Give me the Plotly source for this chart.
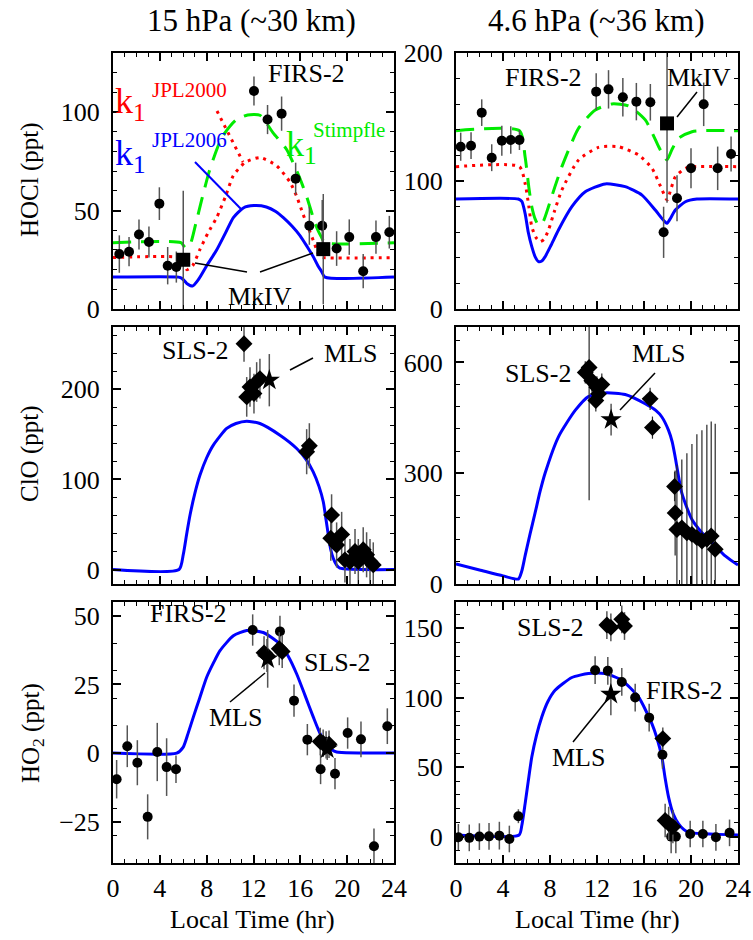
import plotly.graph_objects as go

# ---------------- data ----------------
# HOCl, 15 hPa
hocl15_firs_t = [0.54, 1.37, 2.22, 3.07, 3.96, 4.67, 5.41, 12.04, 13.2, 14.4, 15.6, 16.77, 17.87, 19.1, 20.18, 21.37, 22.46, 23.6]
hocl15_firs_v = [27.9, 29.1, 37.8, 34.0, 53.5, 22.0, 21.3, 110.7, 96.2, 99.2, 66.2, 42.3, 42.3, 30.7, 36.5, 19.2, 36.5, 39.0]
hocl15_firs_e = [9.5, 7.4, 7.6, 7.9, 8.3, 9.5, 7.9, 7.4, 7.4, 8.7, 8.1, 9.7, 13, 8.8, 9, 8.7, 8.4, 8.3]
hocl15_mkiv_t = [6.0, 17.96]
hocl15_mkiv_v = [25.0, 30.4]
hocl15_mkiv_e = [35, 28]
hocl15_jpl06_t = [0, 5.6, 5.9, 6.3, 6.8, 7.3, 8.0, 8.85, 9.6, 10.28, 11.13, 12.04, 13.1, 13.9, 14.55, 15.3, 15.97, 16.6, 17.1, 17.5, 17.8, 18.1, 24]
hocl15_jpl06_v = [16.2, 16.2, 15.5, 13, 11.7, 15, 22, 29.9, 38.5, 46.4, 51.3, 52.5, 51.8, 49.5, 46.4, 42, 37.3, 31.5, 26.6, 22, 19.2, 16.2, 16.2]
hocl15_jpl00_t = [0, 5.7, 6.0, 6.3, 6.8, 7.4, 8.1, 8.85, 9.6, 10.28, 11.27, 12.55, 13.97, 15.1, 15.7, 16.24, 16.7, 17.1, 17.4, 17.66, 17.9, 24]
hocl15_jpl00_v = [26.1, 26.1, 24, 20, 22, 29.9, 38.5, 46.4, 57, 67.8, 74.4, 76.9, 72.8, 64.6, 57, 48, 41, 34.9, 30, 26.6, 26.1, 26.1]
hocl15_stim_t = [0, 5.8, 6.2, 6.6, 7.06, 7.6, 8.2, 8.8, 9.34, 10.48, 11.5, 12.55, 13.69, 14.83, 15.97, 16.6, 17.1, 17.5, 17.8, 18.1, 24]
hocl15_stim_v = [33.7, 33.7, 31, 33, 43.1, 56, 69.5, 80, 87.6, 95.9, 98.5, 98.4, 89.3, 81, 66.2, 56, 46.4, 40, 36.5, 33.7, 33.7]

# HOCl, 4.6 hPa
hocl46_firs_t = [0.4, 1.28, 2.19, 3.04, 3.9, 4.66, 5.4, 11.93, 12.98, 14.2, 15.35, 16.54, 17.67, 18.81, 20.0, 21.08, 22.27, 23.41]
hocl46_firs_v = [126.8, 127.6, 153.4, 118.2, 131.5, 132, 132, 169.8, 171.6, 165.4, 162, 161.5, 59.9, 86.5, 109.9, 159.9, 109.9, 121.1]
hocl46_firs_e = [11, 10.4, 10.4, 10.5, 11.7, 10.8, 7.8, 14.3, 15, 15, 14.6, 14.3, 20, 18, 15.6, 17, 17, 13.7]
hocl46_mkiv_t = [17.96]
hocl46_mkiv_v = [145]
hocl46_mkiv_e = [62]
hocl46_jpl06_t = [0, 5.3, 5.6, 5.88, 6.15, 6.45, 6.75, 7.02, 7.3, 7.59, 8.1, 8.72, 9.86, 11, 12.7, 14.4, 15.83, 16.96, 17.5, 17.8, 17.96, 18.2, 18.67, 19.52, 20.5, 24]
hocl46_jpl06_v = [85.9, 85.9, 84, 74.7, 60, 48.7, 40.5, 37, 37.5, 40.9, 50, 61.7, 79.9, 91.6, 97.7, 95.6, 89, 77.3, 71, 68, 67, 70, 77.3, 83.8, 85.9, 85.9]
hocl46_jpl00_t = [0, 5.4, 5.88, 6.2, 6.45, 6.8, 7.16, 7.5, 7.87, 8.4, 9.01, 10.43, 12.13, 13.84, 15.54, 16.68, 17.54, 17.96, 18.3, 18.67, 19.52, 20.3, 24]
hocl46_jpl00_v = [111.2, 111.2, 98.2, 80, 64.3, 56, 52.6, 54.5, 61.7, 77, 93, 116.4, 126.3, 126.8, 120.3, 109.9, 93, 85.2, 94, 103.4, 109.9, 111.2, 111.2]
hocl46_stim_t = [0, 5.4, 5.88, 6.2, 6.45, 6.75, 7.02, 7.4, 7.87, 8.4, 9.01, 10.43, 11.85, 13.27, 14.69, 16.11, 17.25, 17.7, 17.96, 18.4, 18.95, 20.09, 21, 24]
hocl46_stim_v = [139.3, 139.3, 119, 95, 79.9, 70, 65.6, 68, 79.9, 95, 111.2, 141.2, 155.5, 160.2, 158.6, 147.7, 126.8, 119, 116.4, 125, 133.4, 138.5, 139.3, 139.3]

# ClO, 15 hPa
clo15_model_t = [0, 5.64, 6.0, 6.3, 6.58, 7.0, 7.43, 8.0, 8.57, 9.71, 10.5, 11.42, 12.55, 14.26, 15.69, 16.5, 17.1, 17.6, 17.96, 18.2, 18.39, 18.6, 18.81, 19.1, 19.38, 24]
clo15_model_v = [0, 0, 16.6, 40, 60.5, 85, 104.8, 124, 138, 156.5, 162, 164.6, 162, 149, 134.3, 122, 108.4, 92, 75.2, 55, 38.4, 22, 12.6, 5, 1.5, 0]
clo15_sls_t = [11.19, 11.42, 11.7, 12.04, 12.27, 12.55, 16.54, 16.77, 18.67, 18.6, 19.1, 19.53, 19.81, 20.24, 20.67, 20.95, 21.37, 21.66, 21.95, 22.23]
clo15_sls_v = [250.5, 191.5, 202.5, 195.2, 208, 211.8, 130.7, 137.3, 60.5, 34.7, 27.3, 39, 10.8, 8.9, 20, 8.9, 21.9, 16.4, 8.9, 5.2]
clo15_sls_e = [20, 22, 22, 22, 22, 22, 25, 25, 23, 25, 25, 25, 25, 25, 25, 25, 25, 25, 25, 25]
clo15_mls_t = [13.35]
clo15_mls_v = [210]
clo15_mls_e = [29]

# ClO, 4.6 hPa
clo46_model_t = [0, 2, 4, 5.31, 5.6, 5.88, 6.3, 6.73, 7.15, 7.58, 8.72, 10.14, 11.27, 12.69, 14.4, 16.1, 17.0, 17.52, 18.09, 18.4, 18.65, 19.22, 20.08, 20.93, 22.06, 22.91, 23.9, 24]
clo46_model_v = [54, 38, 22, 13.4, 35, 76, 135, 192.5, 250, 300, 398.6, 470, 507.6, 517.5, 513, 488, 470, 452.3, 416, 385, 344.8, 246, 174.6, 138.8, 103, 76, 53.7, 52]
clo46_sls_t = [11.0, 11.33, 11.56, 11.9, 11.99, 12.13, 12.41, 16.52, 16.72, 18.6, 18.65, 18.8, 19.22, 19.65, 20.08, 20.5, 20.93, 21.35, 21.72, 22.06]
clo46_sls_v = [573, 586.6, 550.6, 497, 532.8, 515, 540, 501.4, 423.5, 264.2, 192.5, 147.7, 152, 138.8, 134.4, 125.5, 116.5, 121, 130, 94]
clo46_sls_e = [30, 360, 30, 30, 30, 30, 30, 30, 30, 40, 115, 175, 185, 215, 245, 280, 300, 310, 310, 340]
clo46_mls_t = [13.2]
clo46_mls_v = [445]
clo46_mls_e = [43]

# HO2, 15 hPa
ho215_model_t = [0, 5.44, 6.0, 6.4, 6.86, 7.4, 8.0, 8.6, 9.14, 10.28, 11.42, 12.84, 14.26, 15.0, 15.69, 16.4, 17.11, 17.7, 18.25, 18.7, 19.1, 24]
ho215_model_v = [0, 0, 2.2, 7, 13.1, 20, 27.6, 33, 37.3, 42.7, 44.6, 43.9, 39.7, 35, 28.8, 21, 13.1, 7, 3.4, 1.2, 0.4, 0]
ho215_firs_t = [0.31, 1.22, 2.08, 2.96, 3.78, 4.58, 5.38, 11.93, 14.26, 15.46, 16.6, 17.73, 18.96, 20.04, 21.18, 22.29, 23.43]
ho215_firs_v = [-9.5, 2.5, -3.5, -23.2, 0.4, -5.1, -5.9, 44.8, 44.3, 19.1, 4.9, -5.9, -7.5, 7.3, 5.0, -33.9, 9.8]
ho215_firs_e = [7, 7.6, 8.2, 8.2, 10.6, 10.5, 5, 5.7, 5.7, 5.9, 5.7, 5.4, 5.7, 5.7, 6.5, 6.5, 6.5]
ho215_sls_t = [12.9, 13.15, 14.2, 14.45, 17.7, 17.95, 18.2, 18.45]
ho215_sls_v = [36.5, 35.5, 38, 37, 4.2, 3.6, 3.0, 3.2]
ho215_sls_e = [6, 6, 6, 6, 5, 5, 5, 5]
ho215_mls_t = [13.21, 18.3]
ho215_mls_v = [34.3, 1.5]
ho215_mls_e = [10.5, 4]

# HO2, 4.6 hPa
ho246_model_t = [0, 5.37, 5.6, 5.88, 6.15, 6.45, 6.85, 7.3, 7.8, 8.43, 9.86, 11.27, 12.69, 14.11, 15.53, 16.67, 17.1, 17.52, 17.8, 18.09, 18.5, 18.94, 19.4, 19.79, 24]
ho246_model_v = [1.2, 1.2, 8, 23.6, 40, 57.3, 73, 86.2, 97, 105.4, 114.6, 117.5, 117.5, 112.7, 100.6, 81.4, 71, 57.3, 42, 28.4, 16, 9.2, 5, 3.1, 1.2]
ho246_firs_t = [0.2, 1.13, 1.99, 2.81, 3.69, 4.54, 5.31, 11.84, 12.92, 14.11, 15.25, 16.44, 17.57, 18.31, 18.71, 19.93, 21.01, 22.12, 23.28]
ho246_firs_v = [-0.5, -0.9, 0, 0.2, 0.7, -1.7, 14.7, 119.9, 119.4, 111.4, 100.2, 85.7, 59, 0, 0, 1.9, 1.9, -0.5, 2.7]
ho246_firs_e = [9.6, 9.6, 9.6, 9.6, 10, 9.6, 5, 10, 10, 10, 10, 10, 10, 12, 12, 9.6, 9.6, 9.6, 9.6]
ho246_sls_t = [12.84, 13.18, 14.11, 14.34, 17.6, 17.8, 18.1, 18.46]
ho246_sls_v = [152.4, 150.7, 156.5, 151.7, 70.6, 11.6, 9.5, 7.2]
ho246_sls_e = [10, 10, 10, 10, 8, 12, 12, 12]
ho246_mls_t = [13.18]
ho246_mls_v = [102.5]
ho246_mls_e = [15]

# axis settings per panel: (range, major step, minor step)
y_ranges = [[0, 130], [0, 200], [-16, 269], [0, 696], [-40, 55], [-19, 169]]
y_dticks = [50, 100, 100, 300, 25, 50]
y_minor = [10, 20, 20, 60, 10, 10]
x_range = [0, 24]
x_major = 4
x_minor = 1

# ---------------- layout geometry ----------------
W, H = 753, 940
COLS = [(113, 394), (456, 738)]
ROWS = [(53, 309), (327, 584), (602, 863)]
FONT = "Liberation Serif"

BLUE = "rgb(0,0,255)"
RED = "rgb(255,0,0)"
GREEN = "rgb(0,235,0)"
BAR = "rgb(85,85,85)"


def px(x, y):
    return x / W, 1 - y / H


fig = go.Figure()


def ax(k):
    return ("x" if k == 1 else f"x{k}"), ("y" if k == 1 else f"y{k}")


def curve(k, t, v, color, dash="solid", width=3):
    xa, ya = ax(k)
    fig.add_trace(go.Scatter(x=t, y=v, mode="lines", xaxis=xa, yaxis=ya,
                             line=dict(color=color, width=width, dash=dash, shape="spline", smoothing=0.6),
                             hoverinfo="skip"))


def points(k, t, v, e, symbol, size, bar=BAR, thick=1.5):
    xa, ya = ax(k)
    fig.add_trace(go.Scatter(x=t, y=v, mode="markers", xaxis=xa, yaxis=ya,
                             marker=dict(symbol=symbol, size=size, color="black", line=dict(width=0)),
                             error_y=dict(type="data", array=e, visible=True, thickness=thick, width=0, color=bar)))


# panel 1: HOCl 15 hPa
curve(1, hocl15_stim_t, hocl15_stim_v, GREEN, dash="18px,10px")
curve(1, hocl15_jpl00_t, hocl15_jpl00_v, RED, dash="3px,5px")
curve(1, hocl15_jpl06_t, hocl15_jpl06_v, BLUE)
points(1, hocl15_firs_t, hocl15_firs_v, hocl15_firs_e, "circle", 10)
points(1, hocl15_mkiv_t, hocl15_mkiv_v, hocl15_mkiv_e, "square", 14)

# panel 2: HOCl 4.6 hPa
curve(2, hocl46_stim_t, hocl46_stim_v, GREEN, dash="18px,10px")
curve(2, hocl46_jpl00_t, hocl46_jpl00_v, RED, dash="3px,5px")
curve(2, hocl46_jpl06_t, hocl46_jpl06_v, BLUE)
points(2, hocl46_firs_t, hocl46_firs_v, hocl46_firs_e, "circle", 10)
points(2, hocl46_mkiv_t, hocl46_mkiv_v, hocl46_mkiv_e, "square", 14)

# panel 3: ClO 15 hPa
curve(3, clo15_model_t, clo15_model_v, BLUE)
points(3, clo15_sls_t, clo15_sls_v, clo15_sls_e, "diamond", 13)
points(3, clo15_mls_t, clo15_mls_v, clo15_mls_e, "star", 16)

# panel 4: ClO 4.6 hPa
curve(4, clo46_model_t, clo46_model_v, BLUE)
points(4, clo46_sls_t, clo46_sls_v, clo46_sls_e, "diamond", 13, bar="rgb(40,40,40)", thick=1.2)
points(4, clo46_mls_t, clo46_mls_v, clo46_mls_e, "star", 16)

# panel 5: HO2 15 hPa
curve(5, ho215_model_t, ho215_model_v, BLUE)
points(5, ho215_firs_t, ho215_firs_v, ho215_firs_e, "circle", 10)
points(5, ho215_sls_t, ho215_sls_v, ho215_sls_e, "diamond", 13)
points(5, ho215_mls_t, ho215_mls_v, ho215_mls_e, "star", 16)

# panel 6: HO2 4.6 hPa
curve(6, ho246_model_t, ho246_model_v, BLUE)
points(6, ho246_firs_t, ho246_firs_v, ho246_firs_e, "circle", 10)
points(6, ho246_sls_t, ho246_sls_v, ho246_sls_e, "diamond", 13)
points(6, ho246_mls_t, ho246_mls_v, ho246_mls_e, "star", 16)

# ---------------- axes ----------------
layout = dict(template="none", width=W, height=H, margin=dict(l=0, r=0, t=0, b=0, pad=0),
              paper_bgcolor="white", plot_bgcolor="white", showlegend=False,
              font=dict(family=FONT, size=26, color="black"))

for k in range(1, 7):
    r, c = (k - 1) // 2, (k - 1) % 2
    x0, x1 = COLS[c]
    y0, y1 = ROWS[r]
    xa, ya = ax(k)
    common = dict(showline=True, linecolor="black", linewidth=2, mirror="allticks",
                  ticks="inside", ticklen=8, tickwidth=1.5, tickcolor="black", automargin=False,
                  showgrid=False, zeroline=False, tickfont=dict(family=FONT, size=26, color="black"))
    layout["xaxis" if k == 1 else f"xaxis{k}"] = dict(
        common, domain=[x0 / W, x1 / W], anchor=ya, range=x_range,
        tickmode="linear", tick0=0, dtick=x_major, showticklabels=(r == 2), ticklabelstandoff=1,
        minor=dict(tickmode="linear", tick0=0, dtick=x_minor, ticks="inside", ticklen=4,
                   tickwidth=1.2, tickcolor="black", showgrid=False))
    layout["yaxis" if k == 1 else f"yaxis{k}"] = dict(
        common, domain=[1 - y1 / H, 1 - y0 / H], anchor=xa, range=y_ranges[k - 1],
        tickmode="linear", tick0=0, dtick=y_dticks[k - 1], ticklabelstandoff=6,
        minor=dict(tickmode="linear", tick0=0, dtick=y_minor[k - 1], ticks="inside", ticklen=4,
                   tickwidth=1.2, tickcolor="black", showgrid=False))

fig.update_layout(**layout)

# ---------------- text ----------------
ann = []


def text(s, x, y, size=26, color="black", angle=0, xanchor="center", yanchor="middle"):
    px_, py_ = px(x, y)
    ann.append(dict(text=s, x=px_, y=py_, xref="paper", yref="paper", showarrow=False,
                    xanchor=xanchor, yanchor=yanchor, textangle=angle,
                    font=dict(family=FONT, size=size, color=color)))


text("15 hPa (~30 km)", 251, 21, size=31)
text("4.6 hPa (~36 km)", 596, 21, size=31)
text("HOCl (ppt)", 30, 180, size=25, angle=-90)
text("ClO (ppt)", 30, 454, size=25, angle=-90)
text("HO<sub>2</sub> (ppt)", 32, 733, size=25, angle=-90)
text("Local Time (hr)", 253, 919, size=26)
text("Local Time (hr)", 597, 919, size=26)

# panel 1 labels
text("FIRS-2", 306, 73)
text("MkIV", 260, 296)
text("k<sub>1</sub>", 113, 103, size=36, color=RED, xanchor="left")
text("JPL2000", 189, 90, size=21, color=RED)
text("k<sub>1</sub>", 113, 155, size=36, color=BLUE, xanchor="left")
text("JPL2006", 189, 140, size=21, color=BLUE)
text("k<sub>1</sub>", 284, 147, size=36, color=GREEN, xanchor="left")
text("Stimpfle", 349, 130, size=21, color=GREEN)
# panel 2 labels
text("FIRS-2", 543, 77)
text("MkIV", 699, 77)
# panel 3 labels
text("SLS-2", 195, 350)
text("MLS", 350, 353)
# panel 4 labels
text("SLS-2", 538, 373)
text("MLS", 658, 353)
# panel 5 labels
text("FIRS-2", 188, 613)
text("SLS-2", 337, 662)
text("MLS", 235, 717)
# panel 6 labels
text("SLS-2", 550, 627)
text("FIRS-2", 684, 690)
text("MLS", 578, 757)

# leader lines from labels to the marks they name
shapes = []


def leader(xa, ya, xb, yb, color="black", width=1.5, dash="solid"):
    ax_, ay_ = px(xa, ya)
    bx_, by_ = px(xb, yb)
    shapes.append(dict(type="line", xref="paper", yref="paper", x0=ax_, y0=ay_, x1=bx_, y1=by_,
                       line=dict(color=color, width=width, dash=dash)))


leader(195, 263, 247, 272)
leader(260, 272, 313, 253)
leader(195, 162, 242, 210, color=BLUE, width=2)
leader(217, 111, 243, 162, color=RED, width=3, dash="3px,5px")
leader(677, 117, 697, 92)
leader(290, 370, 313, 358)
leader(620, 410, 655, 373)
leader(230, 702, 265, 673)
leader(573, 742, 607, 700)

fig.update_layout(annotations=ann, shapes=shapes)
fig.write_html("out.html")
